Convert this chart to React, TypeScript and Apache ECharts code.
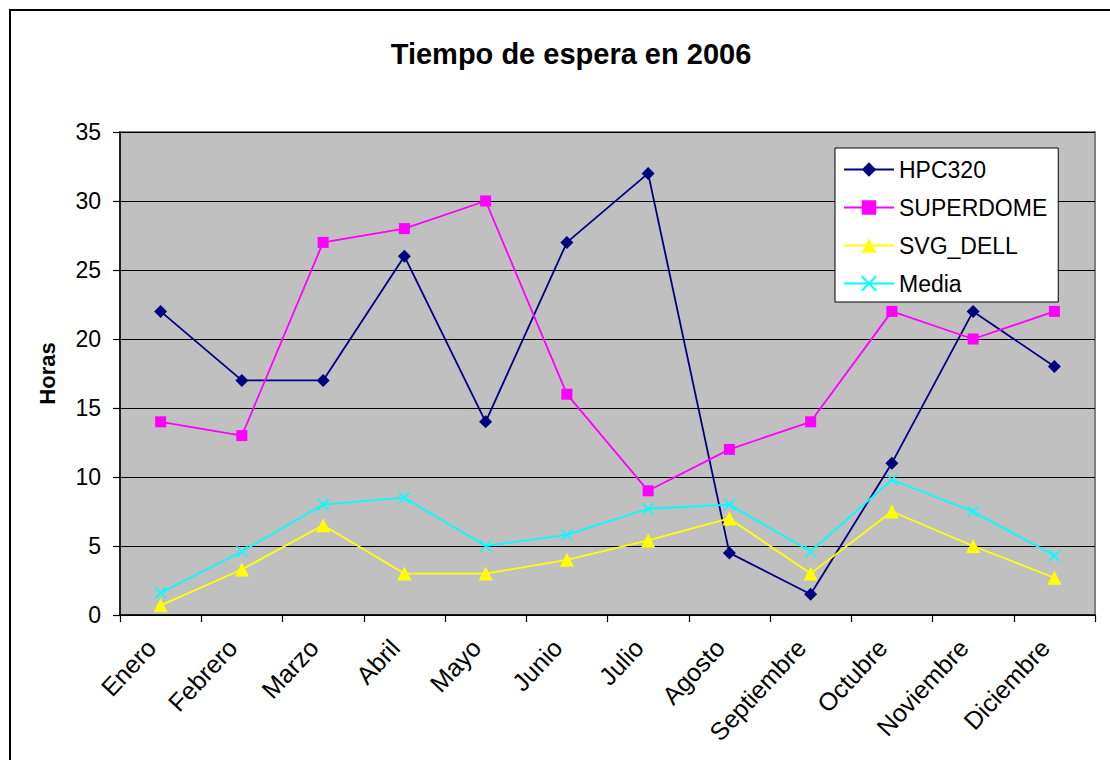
import React, { useEffect, useRef } from "react";
import * as echarts from "echarts";

const months = [
  "Enero", "Febrero", "Marzo", "Abril", "Mayo", "Junio",
  "Julio", "Agosto", "Septiembre", "Octubre", "Noviembre", "Diciembre",
];
const hpc320 = [22, 17, 17, 26, 14, 27, 32, 4.5, 1.5, 11, 22, 18];
const superdome = [14, 13, 27, 28, 30, 16, 9, 12, 14, 22, 20, 22];
const svgDell = [0.7, 3.3, 6.5, 3, 3, 4, 5.4, 7, 3, 7.5, 5, 2.7];
const media = [1.6, 4.6, 8, 8.5, 5, 5.8, 7.7, 8, 4.6, 9.8, 7.5, 4.3];

const FONT = "Arial, 'Liberation Sans', sans-serif";
const crossPath = "path://M0,0L10,10M10,0L0,10";

export default function App() {
  const ref = useRef<HTMLDivElement>(null);
  useEffect(() => {
    if (!ref.current) return;
    const chart = echarts.init(ref.current, null, { renderer: "svg" });
    const mk = (name: string, data: number[], color: string, symbol: string, size: number, extra: any = {}) => ({
      name,
      type: "line",
      data,
      symbol,
      symbolSize: size,
      showAllSymbol: true,
      lineStyle: { color, width: 1.8 },
      itemStyle: { color, ...extra },
      emphasis: { disabled: true },
    });
    chart.setOption({
      animation: false,
      backgroundColor: "#ffffff",
      title: {
        text: "Tiempo de espera en 2006",
        left: 566,
        top: 34,
        textAlign: "center",
        textStyle: { fontFamily: FONT, fontSize: 29, fontWeight: "bold", color: "#000" },
      },
      graphic: [
        {
          type: "rect",
          shape: { x: 10, y: 10, width: 1130, height: 800 },
          style: { fill: "none", stroke: "#000", lineWidth: 2 },
          silent: true,
        },
      ],
      legend: {
        orient: "vertical",
        left: 835,
        top: 148,
        backgroundColor: "#ffffff",
        borderColor: "#000",
        borderWidth: 1,
        borderRadius: 0,
        padding: [10, 11, 7, 8],
        itemWidth: 50,
        itemHeight: 18,
        itemGap: 15,
        textStyle: { fontFamily: FONT, fontSize: 23, color: "#000", padding: [0, 0, 0, 0] },
        data: ["HPC320", "SUPERDOME", "SVG_DELL", "Media"],
      },
      grid: {
        left: 120,
        top: 132,
        width: 975,
        height: 483,
        show: true,
        backgroundColor: "#C0C0C0",
        borderColor: "#808080",
        borderWidth: 2,
      },
      xAxis: {
        type: "category",
        data: months,
        boundaryGap: true,
        axisLine: { show: true, lineStyle: { color: "#000", width: 1.5 } },
        axisTick: { show: true, length: 7, inside: false, alignWithLabel: false, lineStyle: { color: "#000", width: 1.2 } },
        axisLabel: {
          rotate: 47,
          margin: 18,
          interval: 0,
          fontFamily: FONT,
          fontSize: 25,
          color: "#000",
          padding: [0, 14, 0, 0],
        },
        splitLine: { show: false },
      },
      yAxis: {
        type: "value",
        min: 0,
        max: 35,
        interval: 5,
        name: "Horas",
        nameLocation: "middle",
        nameRotate: 90,
        nameGap: 62,
        nameTextStyle: { fontFamily: FONT, fontSize: 22, fontWeight: "bold", color: "#000" },
        axisLine: { show: true, lineStyle: { color: "#000", width: 1.5 } },
        axisTick: { show: true, length: 7, inside: false, lineStyle: { color: "#000", width: 1.2 } },
        axisLabel: { margin: 19, fontFamily: FONT, fontSize: 23, color: "#000" },
        splitLine: { show: true, lineStyle: { color: "#000", width: 1 } },
      },
      series: [
        mk("HPC320", hpc320, "#000080", "diamond", 13),
        mk("SUPERDOME", superdome, "#FF00FF", "rect", 11),
        mk("SVG_DELL", svgDell, "#FFFF00", "triangle", 14),
        mk("Media", media, "#00FFFF", crossPath, 11, { borderColor: "#00FFFF", borderWidth: 1.6, color: "none" }),
      ],
    });
    return () => chart.dispose();
  }, []);
  return (
    <div
      ref={ref}
      style={{ position: "fixed", left: 0, top: 0, width: 1110, height: 760 }}
    />
  );
}
